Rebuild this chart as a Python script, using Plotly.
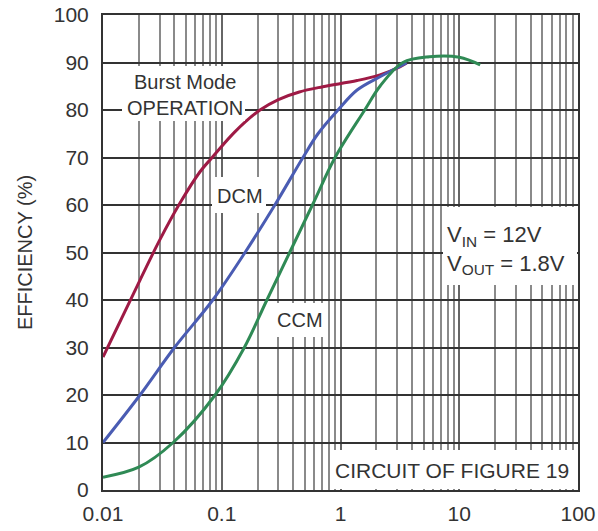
import plotly.graph_objects as go

# ---- data ----
burst_x = [0.01, 0.0205, 0.030, 0.0445, 0.0656, 0.083, 0.129, 0.21, 0.30, 0.45, 0.71, 1.38, 2.15, 3.16, 3.6]
burst_y = [28, 44.2, 52.6, 60.4, 67, 70, 75.4, 80, 82.2, 83.8, 84.9, 86.2, 87.4, 89.1, 89.9]

dcm_x = [0.01, 0.0205, 0.040, 0.084, 0.157, 0.28, 0.483, 0.646, 0.953, 1.38, 2.15, 3.6]
dcm_y = [10, 20, 30, 40, 50, 60, 70, 75, 80, 84.2, 87, 89.9]

ccm_x = [0.01, 0.02, 0.039, 0.088, 0.155, 0.24, 0.58, 0.90, 1.6, 2.15, 3.35, 5.6, 10, 15]
ccm_y = [2.7, 4.8, 10, 20, 30, 40, 60, 70, 80, 85, 90, 91.2, 91.1, 89.5]

x_major = [0.01, 0.1, 1, 10, 100]
x_labels = ["0.01", "0.1", "1", "10", "100"]
x_minor = [m * d for d in [0.01, 0.1, 1, 10] for m in range(2, 10)]
y_ticks = list(range(0, 101, 10))

FONT = "Liberation Sans, Arial, Helvetica, sans-serif"
TXT = "#333333"

fig = go.Figure()
for xs, ys, col in [(burst_x, burst_y, "#9e1a45"), (dcm_x, dcm_y, "#4a5cb3"), (ccm_x, ccm_y, "#2f8a55")]:
    fig.add_trace(go.Scatter(x=xs, y=ys, mode="lines",
                             line=dict(color=col, width=3, shape="spline", smoothing=1.0)))

L, T, W, H = 103, 15, 475, 475  # plot area in pixels


def pbox(x0, y0, x1, y1):
    return dict(type="rect", xref="paper", yref="paper",
                x0=(x0 - L) / W, x1=(x1 - L) / W,
                y0=(T + H - y1) / H, y1=(T + H - y0) / H,
                fillcolor="white", line=dict(width=0), layer="above")


shapes = [pbox(122, 66, 245, 121), pbox(212, 177, 266, 213), pbox(272, 303, 327, 337),
          pbox(443, 207, 577, 285), pbox(332, 450, 577, 489)]


def ppos(px, py):
    return (px - L) / W, (T + H - py) / H


anns = []
for txt, (px, py), anchor, size in [
    ("Burst Mode<br>OPERATION", (185, 95), "center", 20),
    ("DCM", (240, 196), "center", 20),
    ("CCM", (300, 320), "center", 20),
    ("V<sub>IN</sub> = 12V<br>V<sub>OUT</sub> = 1.8V", (445, 250), "left", 22),
    ("CIRCUIT OF FIGURE 19", (452, 470), "center", 21),
]:
    ax, ay = ppos(px, py)
    anns.append(dict(text=txt, x=ax, y=ay, xref="paper", yref="paper", showarrow=False,
                     xanchor=anchor, yanchor="middle", align="left" if anchor == "left" else "center",
                     font=dict(family=FONT, size=size, color=TXT)))

fig.update_layout(
    width=598, height=531,
    margin=dict(l=L, r=598 - L - W, t=T, b=531 - T - H),
    paper_bgcolor="white", plot_bgcolor="white",
    showlegend=False,
    shapes=shapes, annotations=anns,
    font=dict(family=FONT, size=21, color=TXT),
)
fig.update_xaxes(type="log", range=[-2, 2], tickvals=x_major, ticktext=x_labels,
                 showgrid=True, gridcolor="#666666", gridwidth=2,
                 minor=dict(tickvals=x_minor, showgrid=True, gridcolor="#8a8a8a", gridwidth=2, ticks=""),
                 showline=True, mirror=True, linecolor="#333333", linewidth=2,
                 ticks="", ticklabelstandoff=4, tickfont=dict(size=21), automargin=False)
fig.update_yaxes(range=[0, 100], tickvals=y_ticks,
                 showgrid=True, gridcolor="#333333", gridwidth=2, zeroline=False,
                 showline=True, mirror=True, linecolor="#333333", linewidth=2,
                 ticks="", ticklabelstandoff=8, tickfont=dict(size=21), automargin=False,
                 title=dict(text="EFFICIENCY (%)", font=dict(size=20), standoff=16))

fig.write_html("out.html")
